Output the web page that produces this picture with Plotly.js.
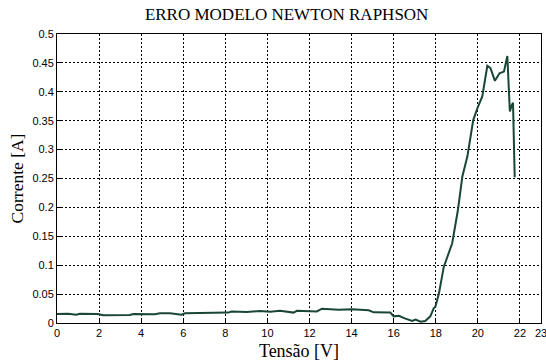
<!DOCTYPE html>
<html>
<head>
<meta charset="utf-8">
<script src="https://cdn.plot.ly/plotly-3.0.1.min.js"></script>
<style>html,body{margin:0;padding:0;background:#fff}#chart{width:546px;height:364px}</style>
</head>
<body>
<div id="chart"></div>
<script>
const tensao = [0, 0.52, 0.92, 1.08, 1.95, 2.19, 3.46, 3.62, 4.65, 4.89, 5.37, 5.92, 6.08, 7.11, 8.14, 8.3, 9.02, 9.65, 10.13, 10.6, 11.24, 11.4, 11.9, 12.35, 12.59, 13.38, 14.02, 14.81, 15.05, 15.84, 16.0, 16.24, 16.56, 16.88, 17.04, 17.28, 17.5, 17.74, 17.9, 17.98, 18.15, 18.38, 18.78, 19.05, 19.26, 19.5, 19.78, 19.97, 20.21, 20.45, 20.6, 20.81, 21.03, 21.24, 21.4, 21.52, 21.6, 21.67, 21.75];
const corrente = [0.0155, 0.016, 0.0144, 0.016, 0.0156, 0.0133, 0.014, 0.0156, 0.015, 0.0167, 0.0167, 0.0144, 0.0167, 0.018, 0.018, 0.020, 0.019, 0.0207, 0.0196, 0.021, 0.018, 0.021, 0.0207, 0.020, 0.0248, 0.0231, 0.0237, 0.022, 0.0185, 0.018, 0.0115, 0.0125, 0.0075, 0.0035, 0.006, 0.0023, 0.0035, 0.0115, 0.0254, 0.028, 0.051, 0.097, 0.138, 0.195, 0.253, 0.288, 0.351, 0.371, 0.392, 0.445, 0.441, 0.419, 0.432, 0.435, 0.462, 0.366, 0.376, 0.381, 0.252];
const xTicks = [0, 2, 4, 6, 8, 10, 12, 14, 16, 18, 20, 22, 23];
const yTicks = [0, 0.05, 0.1, 0.15, 0.2, 0.25, 0.3, 0.35, 0.4, 0.45, 0.5];
const yLabels = ['0', '0.05', '0.1', '0.15', '0.2', '0.25', '0.3', '0.35', '0.4', '0.45', '0.5'];

const serif = 'Liberation Serif, Times New Roman, serif';
const axisCommon = {
  showline: true, linecolor: '#000', linewidth: 1, mirror: true,
  showgrid: true, gridcolor: '#000', gridwidth: 1, griddash: '2px,2px',
  ticks: 'inside', ticklen: 4, tickcolor: '#000',
  zeroline: false,
  tickfont: {family: 'Liberation Sans, Arial, sans-serif', size: 11, color: '#000'},
  automargin: false
};

Plotly.newPlot('chart', [{
  x: tensao, y: corrente, type: 'scatter', mode: 'lines',
  line: {color: '#1a4634', width: 2}, hoverinfo: 'skip'
}], {
  width: 546, height: 364,
  margin: {l: 57, r: 5, t: 34, b: 41},
  paper_bgcolor: '#fff', plot_bgcolor: '#fff',
  showlegend: false,
  title: {text: 'ERRO MODELO NEWTON RAPHSON', x: 0.525, xanchor: 'center', y: 0.962, yanchor: 'middle',
          font: {family: serif, size: 17, color: '#000', weight: 'normal'}},
  xaxis: Object.assign({}, axisCommon, {
    range: [0, 23], tickvals: xTicks, ticktext: xTicks.map(String), ticklabeloverflow: 'allow',
    title: {text: 'Tensão [V]', standoff: 6, font: {family: serif, size: 18, color: '#000'}}
  }),
  yaxis: Object.assign({}, axisCommon, {
    range: [0, 0.5], tickvals: yTicks, ticktext: yLabels,
    title: {text: 'Corrente [A]', standoff: 4, font: {family: serif, size: 17.5, color: '#000'}}
  })
}, {staticPlot: true, displayModeBar: false});
</script>
</body>
</html>
